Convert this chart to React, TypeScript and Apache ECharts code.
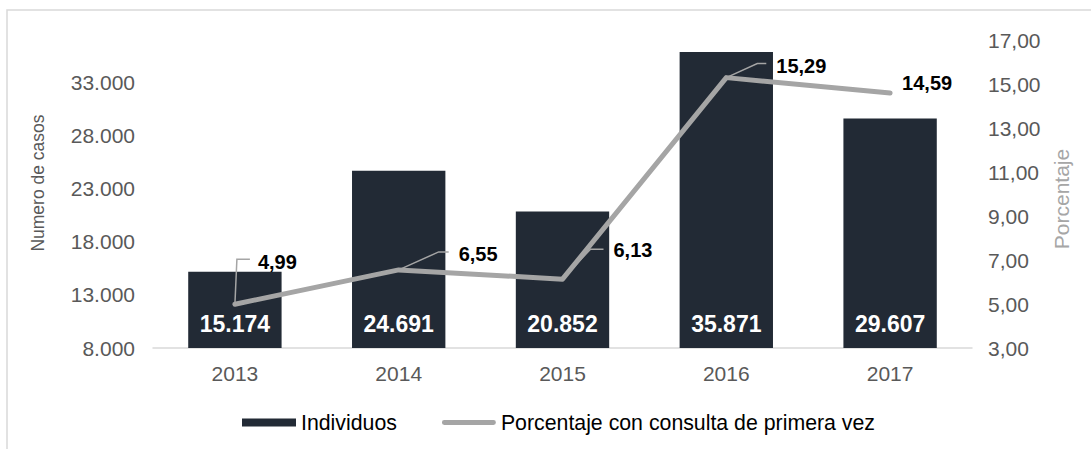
import React, { useEffect, useRef } from "react";
import * as echarts from "echarts";

const categories = ["2013", "2014", "2015", "2016", "2017"];
const individuos = [15174, 24691, 20852, 35871, 29607];
const porcentaje = [4.99, 6.55, 6.13, 15.29, 14.59];
const leftTickLabels = [8000, 13000, 18000, 23000, 28000, 33000];
const rightTickLabels = [3, 5, 7, 9, 11, 13, 15, 17];

// label placement (pixel offsets from each line point) for the callouts
const labelPlacement: { leader: number[][] | null; text: number[] }[] = [
  { leader: [[2, -45], [15, -45]], text: [23, -42] },
  { leader: [[40, -18], [50, -18]], text: [60, -16] },
  { leader: [[28, -30], [41, -30]], text: [51, -29] },
  { leader: [[31, -14], [40, -14]], text: [50, -12] },
  { leader: null, text: [12, -10] },
];

const FONT = "'Liberation Sans', Arial, sans-serif";
const BAR = "#222a35";
const LINE = "#a5a5a5";
const AXIS_TXT = "#595959";

const thousands = (v: number) =>
  String(Math.round(v)).replace(/\B(?=(\d{3})+(?!\d))/g, ".");
const comma2 = (v: number) => v.toFixed(2).replace(".", ",");

export default function App() {
  const ref = useRef<HTMLDivElement>(null);
  useEffect(() => {
    if (!ref.current) return;
    const chart = echarts.init(ref.current, undefined, { renderer: "svg" });
    const option: any = {
      animation: false,
      textStyle: { fontFamily: FONT },
      graphic: [
        {
          type: "rect",
          shape: { x: 7, y: 10, width: 1200, height: 600 },
          style: { fill: "none", stroke: "#d9d9d9", lineWidth: 1.5 },
          silent: true,
          z: -10,
        },
      ],
      grid: { left: 153, right: 119, top: 40, bottom: 101, containLabel: false },
      legend: {
        left: 242,
        top: 412,
        padding: 0,
        itemWidth: 54,
        itemHeight: 8,
        itemGap: 45,
        textStyle: { color: "#000", fontSize: 21.3, fontFamily: FONT },
        data: [
          { name: "Individuos", icon: "rect" },
          {
            name: "Porcentaje con consulta de primera vez",
            icon: "path://M2.5,0 L53.5,0 A2.5,2.5 0 0 1 53.5,5 L2.5,5 A2.5,2.5 0 0 1 2.5,0 Z",
          },
        ],
      },
      xAxis: {
        type: "category",
        data: categories,
        boundaryGap: true,
        axisLine: { show: true, lineStyle: { color: "#d9d9d9", width: 1.5 } },
        axisTick: { show: false },
        axisLabel: { color: AXIS_TXT, fontSize: 21, margin: 15, fontFamily: FONT },
      },
      yAxis: [
        {
          type: "value",
          min: 8000,
          max: 37000,
          interval: 1000,
          name: "Numero de casos",
          nameLocation: "middle",
          nameGap: 106,
          nameTextStyle: {
            color: AXIS_TXT,
            fontSize: 17.5,
            fontFamily: FONT,
            padding: [0, 0, 0, 22],
          },
          axisLine: { show: false },
          axisTick: { show: false },
          splitLine: { show: false },
          axisLabel: {
            color: AXIS_TXT,
            fontSize: 21,
            margin: 18,
            fontFamily: FONT,
            formatter: (v: number) => (leftTickLabels.includes(v) ? thousands(v) : ""),
          },
        },
        {
          type: "value",
          min: 3,
          max: 17,
          interval: 1,
          name: "Porcentaje",
          nameLocation: "middle",
          nameGap: 64,
          nameTextStyle: {
            color: "#a6a6a6",
            fontSize: 21,
            fontFamily: FONT,
            padding: [0, 10, 0, 0],
          },
          axisLine: { show: false },
          axisTick: { show: false },
          splitLine: { show: false },
          axisLabel: {
            color: AXIS_TXT,
            fontSize: 21,
            margin: 16,
            fontFamily: FONT,
            formatter: (v: number) => (rightTickLabels.includes(v) ? comma2(v) : ""),
          },
        },
      ],
      series: [
        {
          name: "Individuos",
          type: "bar",
          yAxisIndex: 0,
          data: individuos,
          barWidth: "57%",
          itemStyle: { color: BAR },
          z: 2,
          label: {
            show: true,
            position: "insideBottom",
            distance: 12,
            color: "#fff",
            fontWeight: "bold",
            fontSize: 23,
            lineHeight: 24,
            fontFamily: FONT,
            formatter: (p: any) => thousands(p.value),
          },
        },
        {
          name: "callouts",
          type: "custom",
          yAxisIndex: 1,
          z: 3,
          data: porcentaje.map((v, i) => [i, v]),
          encode: { x: 0, y: 1 },
          renderItem: (params: any, api: any) => {
            const pt = api.coord([api.value(0), api.value(1)]);
            const pl = labelPlacement[params.dataIndex];
            const children: any[] = [];
            if (pl.leader) {
              children.push({
                type: "polyline",
                shape: {
                  points: [
                    [pt[0], pt[1]],
                    ...pl.leader.map((o) => [pt[0] + o[0], pt[1] + o[1]]),
                  ],
                },
                style: { stroke: LINE, lineWidth: 1.5, fill: "none" },
              });
            }
            children.push({
              type: "text",
              z2: 10,
              style: {
                text: comma2(api.value(1)),
                x: pt[0] + pl.text[0],
                y: pt[1] + pl.text[1],
                fill: "#000",
                fontSize: 20,
                fontWeight: "bold",
                fontFamily: FONT,
                align: "left",
                verticalAlign: "middle",
              },
            });
            return { type: "group", children };
          },
        },
        {
          name: "Porcentaje con consulta de primera vez",
          type: "line",
          yAxisIndex: 1,
          data: porcentaje,
          symbol: "none",
          showSymbol: false,
          z: 4,
          itemStyle: { color: LINE },
          lineStyle: { color: LINE, width: 5, cap: "round", join: "round" },
        },
      ],
    };
    chart.setOption(option);
    return () => chart.dispose();
  }, []);
  return (
    <div
      ref={ref}
      style={{ position: "absolute", left: 0, top: 0, width: 1091, height: 449 }}
    />
  );
}
